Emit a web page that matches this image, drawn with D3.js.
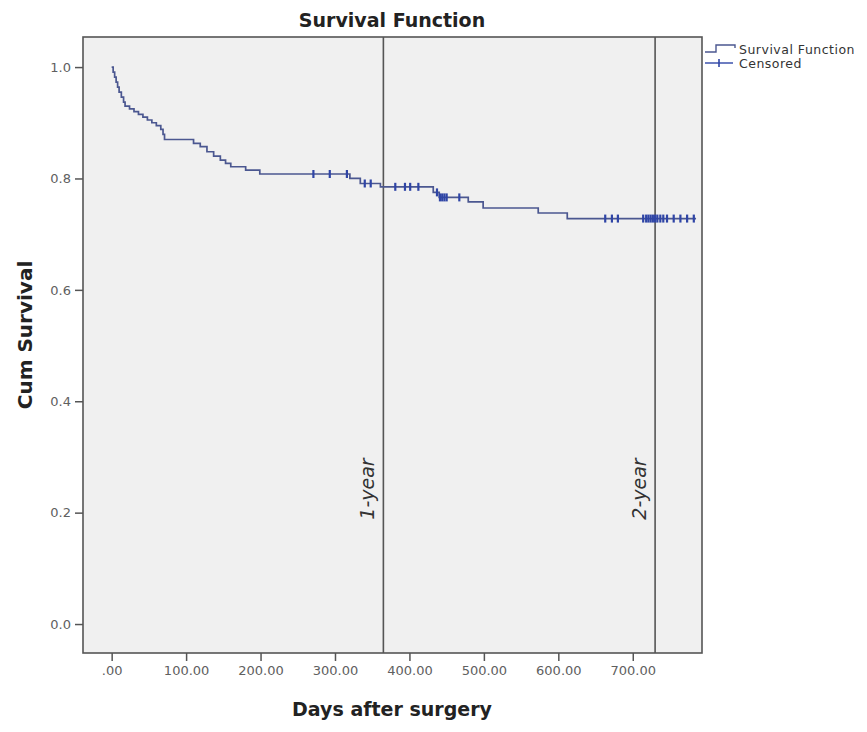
<!DOCTYPE html>
<html>
<head>
<meta charset="utf-8">
<script src="https://cdnjs.cloudflare.com/ajax/libs/d3/7.8.5/d3.min.js"></script>
<style>
  body { margin: 0; background: #fff; }
  text { font-family: "DejaVu Sans", sans-serif; }
</style>
</head>
<body>
<svg id="chart" width="867" height="732"></svg>
<script>
// Kaplan-Meier steps (day, cumulative survival after the event)
const eventDays = [0, 2, 4, 6, 8, 10, 13, 16, 18, 24, 30, 36, 42, 48, 54, 60, 66, 69, 71, 110, 119, 128, 137, 146, 153, 160, 180, 199, 320, 334, 361, 432, 440, 479, 499, 573, 612];
const survival = [1.0, 0.991, 0.982, 0.973, 0.964, 0.955, 0.946, 0.937, 0.930, 0.925, 0.920, 0.915, 0.910, 0.905, 0.900, 0.895, 0.888, 0.879, 0.870, 0.863, 0.857, 0.848, 0.840, 0.833, 0.827, 0.821, 0.815, 0.808, 0.800, 0.791, 0.785, 0.775, 0.766, 0.758, 0.747, 0.738, 0.728];
const censoredDays = [271, 293, 316, 340, 348, 381, 394, 401, 412, 437, 441, 444, 447, 450, 467, 663, 672, 680, 714, 718, 721, 724, 727, 730, 733, 737, 741, 746, 755, 764, 773, 782];
const lastDay = 785;

const xTicks = [0, 100, 200, 300, 400, 500, 600, 700];
const yTicks = [0, 0.2, 0.4, 0.6, 0.8, 1.0];
const refLines = [{ day: 365, label: "1-year" }, { day: 730, label: "2-year" }];

const plot = { left: 83, right: 702, top: 37, bottom: 653 };
const lineColor = "#4b5790";
const censorColor = "#2f45a6";
const frameColor = "#555";

const svg = d3.select("#chart");

const x = d3.scaleLinear().domain([-38.5, 793]).range([plot.left, plot.right]);
const y = d3.scaleLinear().domain([-0.052, 1.054]).range([plot.bottom, plot.top]);

// plot background
svg.append("rect")
    .attr("x", plot.left).attr("y", plot.top)
    .attr("width", plot.right - plot.left).attr("height", plot.bottom - plot.top)
    .attr("fill", "#f0f0f0");

// axes
const xAxis = svg.append("g")
    .attr("transform", `translate(0,${plot.bottom})`)
    .call(d3.axisBottom(x).tickValues(xTicks).tickSize(8).tickPadding(5)
        .tickFormat(d => d === 0 ? ".00" : d.toFixed(2)));
const yAxis = svg.append("g")
    .attr("transform", `translate(${plot.left},0)`)
    .call(d3.axisLeft(y).tickValues(yTicks).tickSize(8).tickPadding(4)
        .tickFormat(d3.format(".1f")));

[xAxis, yAxis].forEach(g => {
    g.select(".domain").remove();
    g.selectAll(".tick line").attr("stroke", frameColor).attr("stroke-width", 1.5);
    g.selectAll(".tick text").attr("fill", "#606060").style("font-size", "13px");
});

// reference lines
svg.selectAll(".refline")
    .data(refLines)
    .enter().append("line")
    .attr("x1", d => x(d.day)).attr("x2", d => x(d.day))
    .attr("y1", plot.top).attr("y2", plot.bottom)
    .attr("stroke", frameColor).attr("stroke-width", 1.6);

svg.selectAll(".reflabel")
    .data(refLines)
    .enter().append("text")
    .attr("transform", d => `translate(${x(d.day) - 9},489) rotate(-90)`)
    .attr("text-anchor", "middle")
    .style("font-size", "19px")
    .style("font-style", "italic")
    .attr("fill", "#333")
    .text(d => d.label);

// survival curve
const steps = eventDays.map((d, i) => [d, survival[i]]);
steps.push([lastDay, survival[survival.length - 1]]);

svg.append("path")
    .datum(steps)
    .attr("fill", "none")
    .attr("stroke", lineColor)
    .attr("stroke-width", 1.7)
    .attr("d", d3.line().x(d => x(d[0])).y(d => y(d[1])).curve(d3.curveStepAfter));

// censored marks
const survAt = t => survival[d3.bisectRight(eventDays, t) - 1];
svg.selectAll(".censor")
    .data(censoredDays)
    .enter().append("line")
    .attr("x1", d => x(d)).attr("x2", d => x(d))
    .attr("y1", d => y(survAt(d)) - 4).attr("y2", d => y(survAt(d)) + 4)
    .attr("stroke", censorColor).attr("stroke-width", 2.2);

// frame
svg.append("rect")
    .attr("x", plot.left).attr("y", plot.top)
    .attr("width", plot.right - plot.left).attr("height", plot.bottom - plot.top)
    .attr("fill", "none").attr("stroke", frameColor).attr("stroke-width", 1.6);

// titles
svg.append("text")
    .attr("x", 392).attr("y", 27)
    .attr("text-anchor", "middle")
    .style("font-size", "19px").style("font-weight", "bold")
    .attr("fill", "#222")
    .text("Survival Function");

svg.append("text")
    .attr("x", 392).attr("y", 716)
    .attr("text-anchor", "middle")
    .style("font-size", "19px").style("font-weight", "bold")
    .attr("fill", "#222")
    .text("Days after surgery");

svg.append("text")
    .attr("transform", "translate(32,335) rotate(-90)")
    .attr("text-anchor", "middle")
    .style("font-size", "20px").style("font-weight", "bold")
    .attr("fill", "#222")
    .text("Cum Survival");

// legend
const legend = svg.append("g");
legend.append("path")
    .attr("d", "M705,52H716V45H735V48")
    .attr("fill", "none").attr("stroke", lineColor).attr("stroke-width", 1.4);
legend.append("line")
    .attr("x1", 705).attr("x2", 733).attr("y1", 63).attr("y2", 63)
    .attr("stroke", censorColor).attr("stroke-width", 1.4);
legend.append("line")
    .attr("x1", 719).attr("x2", 719).attr("y1", 59).attr("y2", 67)
    .attr("stroke", censorColor).attr("stroke-width", 1.6);
legend.selectAll(".ltext")
    .data(["Survival Function", "Censored"])
    .enter().append("text")
    .attr("x", 739).attr("y", (d, i) => 54 + i * 14)
    .style("font-size", "12.5px")
    .style("letter-spacing", "0.5px")
    .attr("fill", "#333")
    .text(d => d);
</script>
</body>
</html>
